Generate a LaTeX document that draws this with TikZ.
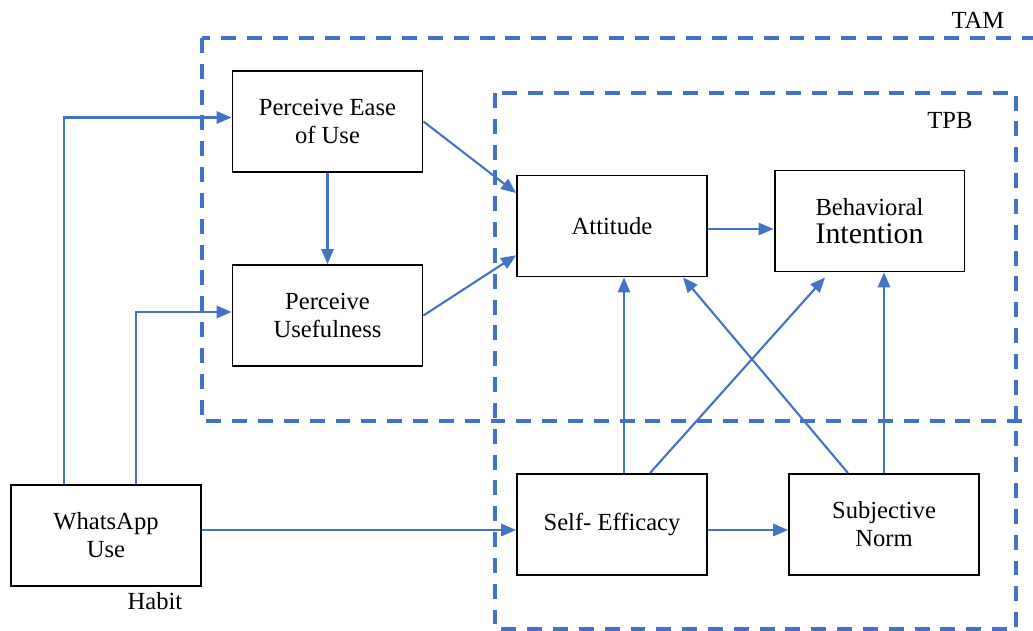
\documentclass[tikz,border=0pt]{standalone}
\usepackage{fontspec}
\setmainfont{Liberation Serif}
\usetikzlibrary{arrows.meta}
\definecolor{linkblue}{RGB}{68,114,196}
\tikzset{
  factor/.style={draw,line width=1.1pt,fill=white,minimum width=3.8cm,minimum height=2.02cm,
    align=center,inner sep=0pt,font=\fontsize{14}{16}\selectfont},
  link/.style={draw=linkblue,line width=1.2pt,-{Triangle[length=8.5pt,width=7pt]}},
  model/.style={draw=linkblue,line width=2.2pt,dash pattern=on 8.5pt off 6.2pt},
  tag/.style={font=\fontsize{14}{16}\selectfont}
}
\begin{document}
\begin{tikzpicture}[x=0.02cm,y=-0.02cm]
      \clip (0,0) rectangle (1033,631);
      \draw[model] (202,38) rectangle (1050,421);
      \draw[model] (495,93) rectangle (1016,629);
      \node[tag] (tam) at (978,20) {TAM};
      \node[tag] (tpb) at (950,120) {TPB};
      \node[factor] (peu) at (327.5,121.5) {Perceive Ease\\of Use};
      \node[factor] (pu) at (327.5,315.5) {Perceive\\Usefulness};
      \node[factor] (att) at (612,226) {Attitude};
      \node[factor] (bi) at (869.5,221) {Behavioral\\{\fontsize{17}{19}\selectfont Intention}};
      \node[factor] (se) at (612,524.5) {Self- Efficacy};
      \node[factor] (sn) at (884,524.5) {Subjective\\Norm};
      \node[factor] (wa) at (106,535.5) {WhatsApp\\Use};
      \node[tag] (habit) at (155,601) {Habit};
      \draw[link] ([xshift=-0.84cm]wa.north) |- ([yshift=0.08cm]peu.west);
      \draw[link] ([xshift=0.6cm]wa.north) |- ([yshift=0.07cm]pu.west);
      \draw[link] ([yshift=0.11cm]wa.east) -- ([yshift=0.11cm]wa.east -| se.west);
      \draw[link] (peu.south) -- (pu.north);
      \draw[link] (peu.east) -- (att.161);
      \draw[link] (pu.east) -- (att.197);
      \draw[link] ([yshift=-0.06cm]att.east) -- ([yshift=-0.06cm]att.east -| bi.west);
      \draw[link] ([xshift=0.24cm]se.north) -- ([xshift=0.24cm]att.south);
      \draw[link] ([xshift=0.76cm]se.north) -- ([xshift=-0.89cm,yshift=-0.1cm]bi.south);
      \draw[link] ([xshift=-0.72cm]sn.north) -- ([xshift=1.42cm]att.south);
      \draw[link] (sn.north) -- (sn.north |- bi.south);
      \draw[link] ([yshift=-0.11cm]se.east) -- ([yshift=-0.11cm]sn.west);
    \end{tikzpicture}
\end{document}
